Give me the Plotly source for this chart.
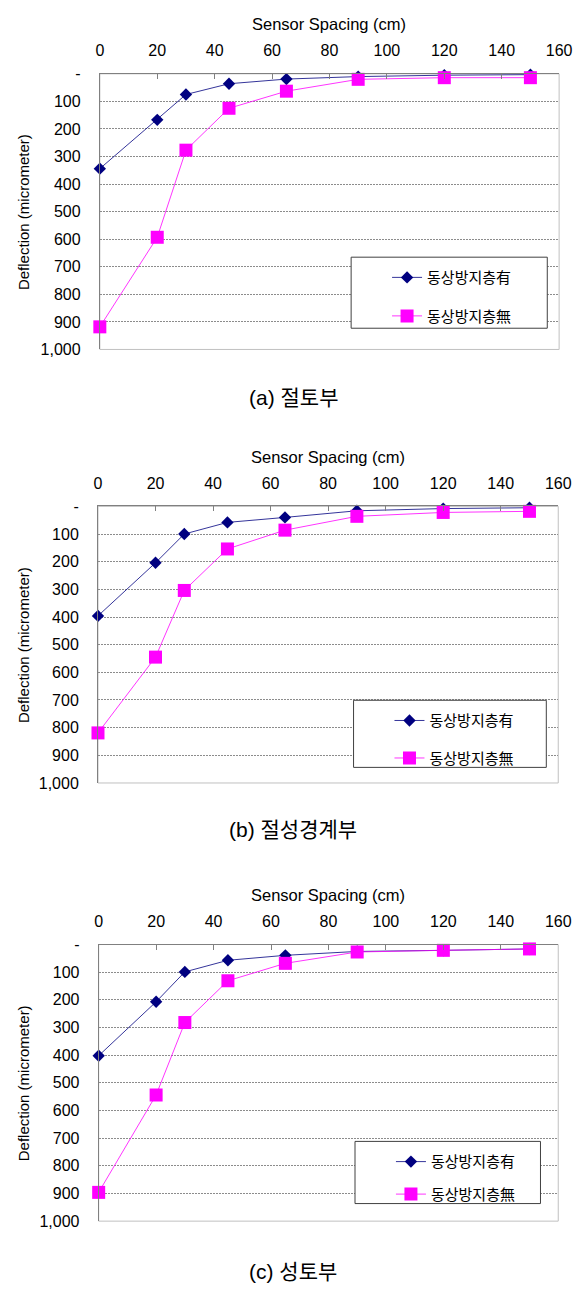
import plotly.graph_objects as go

W, H = 586, 1293

# Sensor offsets from the load centre (cm)
spacing_cm = [0, 20, 30, 45, 65, 90, 120, 150]

series_names = ["동상방지층有", "동상방지층無"]
panel_labels = ["(a) 절토부", "(b) 절성경계부", "(c) 성토부"]

# Deflection basins (micrometer)
cut_with = [344, 167, 75, 36, 19, 10, 5, 3]
cut_without = [918, 593, 277, 125, 63, 20, 14, 14]
transition_with = [396, 204, 100, 58, 40, 16, 8, 5]
transition_without = [819, 545, 304, 154, 86, 36, 22, 18]
fill_with = [402, 207, 99, 57, 39, 25, 21, 16]
fill_without = [896, 544, 282, 131, 68, 27, 21, 16]

x_ticks = [0, 20, 40, 60, 80, 100, 120, 140, 160]
y_ticks = [0, 100, 200, 300, 400, 500, 600, 700, 800, 900, 1000]
y_ticktext = ["-"] + [f"{v:,}" for v in y_ticks[1:]]

x_title = "Sensor Spacing (cm)"
y_title = "Deflection (micrometer)"

panels = [
    (cut_with, cut_without),
    (transition_with, transition_without),
    (fill_with, fill_without),
]

# Pixel layout of each panel: plot left/right/top/bottom, legend box, caption y, legend item gap
frames = [
    dict(l=98.7, r=571.7, t=66.7, b=346.0, box=(357.5, 559.5, 252.5, 324.5), cap=395, gap=16),
    dict(l=96.8, r=570.8, t=505.0, b=785.3, box=(360.0, 558.5, 701.5, 769.5), cap=832, gap=15),
    dict(l=97.5, r=570.8, t=949.0, b=1229.3, box=(361.5, 552.5, 1148.5, 1211.5), cap=1280, gap=10),
]

TXT = "Liberation Sans, Arial, Noto Sans CJK KR, sans-serif"
KR = "Noto Sans CJK KR, Liberation Sans, sans-serif"


def px(x):
    return x / W


def py(y):
    return 1 - y / H


fig = go.Figure()
annotations = []
shapes = []

for i, ((s_with, s_without), fr) in enumerate(zip(panels, frames)):
    n = "" if i == 0 else str(i + 1)
    xa, ya = "x" + n, "y" + n
    leg = "legend" + n

    fig.add_trace(go.Scatter(
        x=spacing_cm, y=s_with, name=series_names[0], mode="lines+markers",
        xaxis=xa, yaxis=ya, legend=leg, legendgroup=f"w{i}", cliponaxis=False,
        line=dict(color="#000080", width=0.8),
        marker=dict(symbol="diamond", size=9.5, color="#000080"),
    ))
    fig.add_trace(go.Scatter(
        x=spacing_cm, y=s_without, name=series_names[1], mode="lines+markers",
        xaxis=xa, yaxis=ya, legend=leg, legendgroup=f"n{i}", cliponaxis=False,
        line=dict(color="#FF00FF", width=0.8),
        marker=dict(symbol="square", size=13, color="#FF00FF"),
    ))

    fig.update_layout({
        "xaxis" + n: dict(
            domain=[px(fr["l"]), px(fr["r"])], anchor=ya, side="top",
            range=[0, 160], tickvals=x_ticks, showgrid=False, zeroline=False,
            showline=True, linecolor="#808080", linewidth=1,
            ticks="inside", ticklen=5, tickcolor="#808080",
            ticklabelstandoff=10,
            tickfont=dict(family=TXT, size=16, color="#000000"),
        ),
        "yaxis" + n: dict(
            domain=[py(fr["b"]), py(fr["t"])], anchor=xa,
            range=[1000, 0], tickvals=y_ticks, ticktext=y_ticktext,
            showgrid=True, gridcolor="#8c8c8c", gridwidth=1, griddash="2px,1px",
            zeroline=False, showline=True, linecolor="#808080", linewidth=1,
            ticks="", ticklabelstandoff=15,
            tickfont=dict(family=TXT, size=16, color="#000000"),
        ),
        leg: dict(
            x=px(fr["box"][0] + 37), xanchor="left",
            y=py(fr["box"][2] + 4), yanchor="top",
            bgcolor="rgba(0,0,0,0)", borderwidth=0,
            font=dict(family=KR, size=15, color="#000000"),
            itemwidth=30, tracegroupgap=fr["gap"], traceorder="grouped",
        ),
    })

    # plot-area frame (right and bottom edges in light grey)
    shapes.append(dict(
        type="rect", xref=xa + " domain", yref=ya + " domain",
        x0=0, x1=1, y0=0, y1=1, layer="below",
        line=dict(color="#c0c0c0", width=1),
    ))
    # legend box
    bx0, bx1, by0, by1 = fr["box"]
    shapes.append(dict(
        type="rect", xref="paper", yref="paper",
        x0=px(bx0), x1=px(bx1), y0=py(by1), y1=py(by0), layer="above",
        fillcolor="#ffffff", line=dict(color="#404040", width=1),
    ))

    annotations.append(dict(
        text=x_title, xref="paper", yref="paper",
        x=px((fr["l"] + fr["r"]) / 2), y=py(fr["t"] - 50.5),
        xanchor="center", yanchor="middle", showarrow=False,
        font=dict(family=TXT, size=16.5, color="#000000"),
    ))
    annotations.append(dict(
        text=y_title, xref="paper", yref="paper", textangle=-90,
        x=px(20), y=py((fr["t"] + fr["b"]) / 2),
        xanchor="center", yanchor="middle", showarrow=False,
        font=dict(family=TXT, size=15, color="#000000"),
    ))
    annotations.append(dict(
        text=panel_labels[i], xref="paper", yref="paper",
        x=px(298), y=py(fr["cap"]),
        xanchor="center", yanchor="middle", showarrow=False,
        font=dict(family=TXT, size=21, color="#000000"),
    ))

fig.update_layout(
    width=W, height=H,
    margin=dict(l=0, r=0, t=0, b=0),
    paper_bgcolor="#ffffff", plot_bgcolor="#ffffff",
    showlegend=True,
    annotations=annotations, shapes=shapes,
)

fig.write_html("out.html")
